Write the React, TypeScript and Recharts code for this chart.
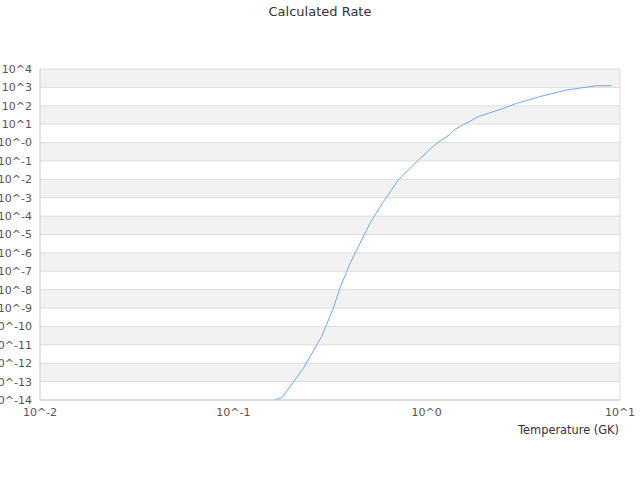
import React from "react";
import { LineChart, Line, XAxis, YAxis, CartesianGrid, ReferenceLine } from "recharts";

const temperatures = [
  0.163, 0.179, 0.23, 0.286, 0.327, 0.356, 0.398, 0.452, 0.509, 0.597, 0.713,
  0.906, 1.127, 1.32, 1.4, 1.85, 2.49, 2.92, 3.85, 5.3, 7.0, 7.57, 9.06,
];
const rates = [
  1.0e-14, 1.4e-14, 5.2e-13, 2.8e-11, 8.3e-10, 1.2e-8, 2.2e-7, 3.3e-6, 4.1e-5,
  6.0e-4, 9.1e-3, 0.112, 0.91, 2.8, 5.2, 25.7, 72, 135, 316, 724, 1096, 1230, 1230,
];
const xTicks = [0.01, 0.1, 1, 10];
const xTickLabels = ["10^-2", "10^-1", "10^0", "10^1"];
const yExponents = [4, 3, 2, 1, 0, -1, -2, -3, -4, -5, -6, -7, -8, -9, -10, -11, -12, -13, -14];
const yTickLabels = yExponents.map((e) => (e === 0 ? "10^-0" : `10^${e}`));
const yTicks = yExponents.map((e) => Math.pow(10, e));

const data = temperatures.map((t, i) => ({ t, rate: rates[i] }));

const FONT = "'DejaVu Sans', sans-serif";

export default function App() {
  return (
    <div
      style={{
        position: "fixed",
        top: 0,
        left: 0,
        width: 640,
        height: 480,
        fontFamily: FONT,
        background: "#fff",
      }}
    >
      <LineChart
        width={640}
        height={480}
        data={data}
        margin={{ top: 69, right: 20, bottom: 50, left: 0 }}
      >
        <CartesianGrid
          vertical={false}
          stroke="#dddddd"
          horizontalFill={["#f2f2f2", "#ffffff"]}
          fillOpacity={1}
        />
        <XAxis
          dataKey="t"
          type="number"
          scale="log"
          domain={[0.01, 10]}
          ticks={xTicks}
          tickFormatter={(v: number) => xTickLabels[xTicks.findIndex((x) => Math.abs(x - v) < v * 1e-6)] ?? ""}
          tickLine={false}
          axisLine={{ stroke: "#cccccc" }}
          tick={{ fontSize: 11, fill: "#555", fontFamily: FONT }}
          height={30}
          interval={0}
          allowDataOverflow
        />
        <YAxis
          type="number"
          scale="log"
          domain={[1e-14, 1e4]}
          ticks={yTicks}
          tickFormatter={(v: number) => yTickLabels[yTicks.findIndex((y) => Math.abs(y - v) < v * 1e-6)] ?? ""}
          tickLine={false}
          axisLine={{ stroke: "#cccccc" }}
          tick={{ fontSize: 11, fill: "#555", fontFamily: FONT }}
          width={40}
          interval={0}
          allowDataOverflow
        />
        <ReferenceLine x={10} stroke="#dddddd" />
        <Line
          dataKey="rate"
          stroke="#6aacf0"
          strokeWidth={1}
          dot={false}
          isAnimationActive={false}
        />
      </LineChart>
      <div
        style={{
          position: "absolute",
          top: 4,
          left: 0,
          width: 640,
          textAlign: "center",
          fontSize: 13,
          color: "#333",
        }}
      >
        Calculated Rate
      </div>
      <div
        style={{
          position: "absolute",
          top: 423,
          right: 21,
          fontSize: 11.4,
          color: "#333",
        }}
      >
        Temperature (GK)
      </div>
    </div>
  );
}
